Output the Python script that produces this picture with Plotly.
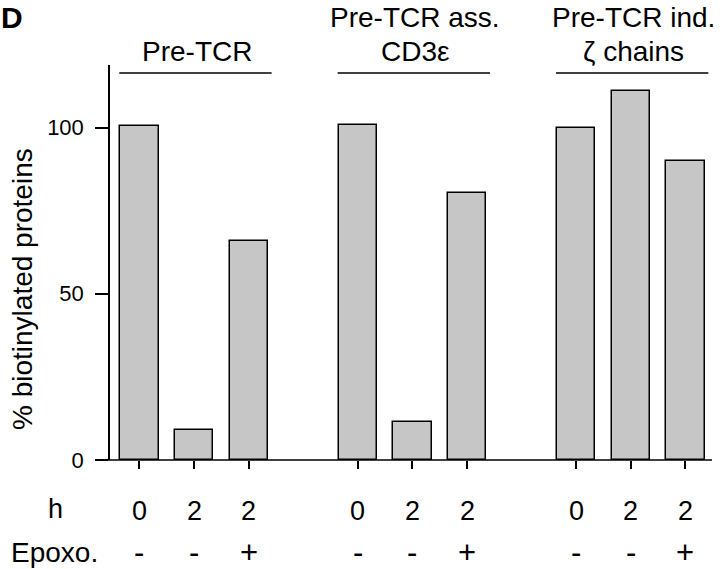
import plotly.graph_objects as go

# ---- data ----
group_titles = [["Pre-TCR"], ["Pre-TCR ass.", "CD3ε"], ["Pre-TCR ind.", "ζ chains"]]
hours = ["0", "2", "2"]
epoxo = ["-", "-", "+"]
pre_tcr = [100.5, 9.0, 66.0]
cd3e = [100.7, 11.4, 80.3]
zeta = [100.0, 111.0, 90.0]
y_ticks = [0, 50, 100]

groups = [pre_tcr, cd3e, zeta]
GAP = 4  # slots per group (3 bars + 1 empty slot)

xs, ys = [], []
for g, vals in enumerate(groups):
    for i, v in enumerate(vals):
        xs.append(g * GAP + i)
        ys.append(v)

FONT = "Liberation Sans, Arial, Helvetica, sans-serif"
TOP, PLOT_H = 65, 395


def py(px):
    """pixel row -> paper y"""
    return 1 + (TOP - px) / PLOT_H


def px_x(px):
    return (px - 110) / 602


fig = go.Figure()
fig.add_trace(go.Bar(
    x=xs, y=ys, width=0.7,
    marker=dict(color="#c6c6c6", line=dict(color="black", width=1.5)),
    showlegend=False, hoverinfo="skip",
))

annotations = []
shapes = []
line_rows = [17, 51]  # pixel rows of title lines (upper, lower)
for g in range(len(groups)):
    first = g * GAP
    last = g * GAP + len(groups[g]) - 1
    lines = group_titles[g]
    rows = line_rows[-len(lines):]
    for text, row in zip(lines, rows):
        annotations.append(dict(
            x=(first + last) / 2 + 0.05, y=py(row), xref="x", yref="paper",
            text=text, showarrow=False, xanchor="center", yanchor="middle",
            font=dict(size=28, color="black", family=FONT),
        ))
    shapes.append(dict(
        type="line", xref="x", yref="y", x0=first - 0.37, x1=last + 0.42,
        y0=116.4, y1=116.4, line=dict(color="black", width=1.5),
    ))
    for i in range(len(groups[g])):
        annotations.append(dict(
            x=first + i, y=py(511), xref="x", yref="paper", text=hours[i],
            showarrow=False, xanchor="center", yanchor="middle",
            font=dict(size=27, color="black", family=FONT),
        ))
        annotations.append(dict(
            x=first + i, y=py(552), xref="x", yref="paper", text=epoxo[i],
            showarrow=False, xanchor="center", yanchor="middle",
            font=dict(size=31, color="black", family=FONT),
        ))

annotations += [
    dict(x=px_x(55), y=py(509), xref="paper", yref="paper", text="h", showarrow=False,
         xanchor="center", yanchor="middle", font=dict(size=27, color="black", family=FONT)),
    dict(x=px_x(9), y=py(552), xref="paper", yref="paper", text="Epoxo.", showarrow=False,
         xanchor="left", yanchor="middle", font=dict(size=28, color="black", family=FONT)),
    dict(x=px_x(-1), y=py(17), xref="paper", yref="paper", text="<b>D</b>", showarrow=False,
         xanchor="left", yanchor="middle", font=dict(size=30, color="black", family=FONT)),
    dict(x=px_x(22), y=py(289), xref="paper", yref="paper", text="% biotinylated proteins",
         showarrow=False, textangle=-90, xanchor="center", yanchor="middle",
         font=dict(size=28, color="black", family=FONT)),
]

# x-axis baseline extending slightly left of the y-axis
shapes.append(dict(type="line", xref="paper", yref="paper", x0=px_x(97), x1=1.0,
                   y0=0, y1=0, line=dict(color="black", width=1.5)))

fig.update_layout(
    width=720, height=569,
    margin=dict(l=110, r=8, t=TOP, b=569 - TOP - PLOT_H),
    paper_bgcolor="white", plot_bgcolor="white",
    annotations=annotations, shapes=shapes,
    xaxis=dict(range=[-0.54, 10.487], showgrid=False, zeroline=False, showline=False,
               tickvals=xs, ticks="outside", ticklen=8,
               tickwidth=1.5, tickcolor="black", showticklabels=False, fixedrange=True),
    yaxis=dict(range=[0, 118.8], showgrid=False, zeroline=False, showline=True,
               linecolor="black", linewidth=1.5, tickvals=y_ticks, ticks="outside",
               ticklen=13, tickwidth=1.5, tickcolor="black",
               tickfont=dict(size=22, color="black", family=FONT), ticklabelstandoff=7),
    bargap=0,
)

fig.write_html("out.html", config={"displayModeBar": False},
               post_script="document.body.style.margin='0px';")
